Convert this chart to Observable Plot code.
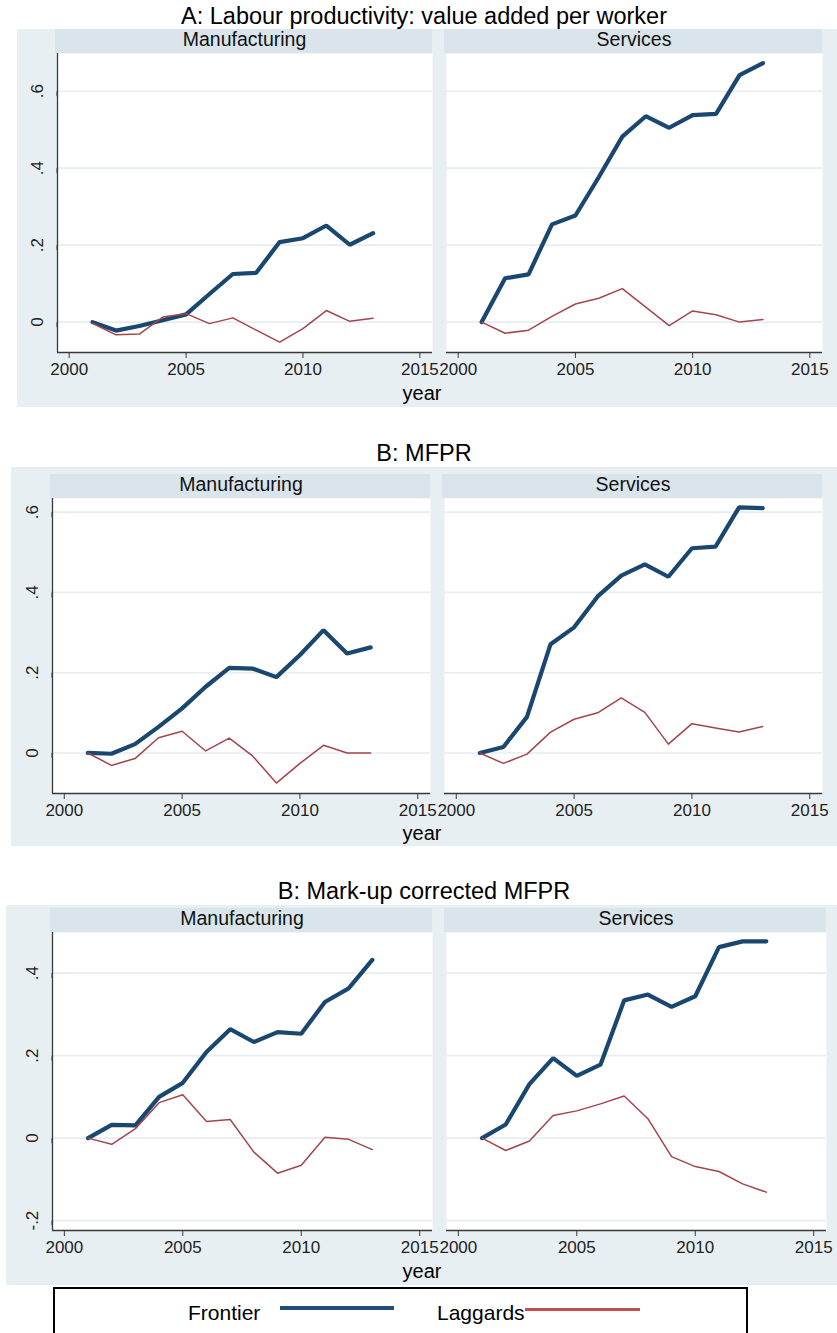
<!DOCTYPE html>
<html><head><meta charset="utf-8">
<script src="https://cdn.jsdelivr.net/npm/d3@7"></script>
<script src="https://cdn.jsdelivr.net/npm/@observablehq/plot@0.6"></script>
<style>
html,body{margin:0;padding:0;background:#fff;overflow:hidden;}
body{width:837px;height:1333px;position:relative;font-family:"Liberation Sans",Arial,sans-serif;color:#000;}
.bg{position:absolute;background:#e7eff2;}
.strip{position:absolute;background:#d9e5eb;height:24px;}
.lbl{position:absolute;white-space:nowrap;line-height:1;text-align:center;}
svg{overflow:visible;}
</style></head><body>
<script>
// ---- data ----
const years = [2001, 2002, 2003, 2004, 2005, 2006, 2007, 2008, 2009, 2010, 2011, 2012, 2013];
const sectors = ["Manufacturing", "Services"];
const seriesNames = ["Frontier", "Laggards"];
const panelTitles = ["A: Labour productivity: value added per worker", "B: MFPR", "B: Mark-up corrected MFPR"];
const xTicks = [2000, 2005, 2010, 2015];
const yTicksA = [0, 0.2, 0.4, 0.6];
const yTicksB = [0, 0.2, 0.4, 0.6];
const yTicksC = [-0.2, 0, 0.2, 0.4];

// A: Labour productivity
const aManFrontier = [0, -0.022, -0.010, 0.005, 0.020, 0.073, 0.125, 0.128, 0.208, 0.218, 0.251, 0.201, 0.231];
const aManLaggards = [-0.003, -0.033, -0.031, 0.013, 0.022, -0.004, 0.011, -0.021, -0.052, -0.017, 0.030, 0.002, 0.010];
const aSerFrontier = [0, 0.114, 0.124, 0.254, 0.277, 0.377, 0.482, 0.535, 0.505, 0.538, 0.541, 0.642, 0.673];
const aSerLaggards = [0, -0.029, -0.021, 0.015, 0.047, 0.062, 0.087, 0.039, -0.009, 0.029, 0.019, 0.000, 0.007];
// B: MFPR
const bManFrontier = [0, -0.002, 0.022, 0.065, 0.111, 0.165, 0.212, 0.210, 0.189, 0.244, 0.306, 0.248, 0.263];
const bManLaggards = [0, -0.031, -0.014, 0.038, 0.054, 0.005, 0.037, -0.008, -0.075, -0.026, 0.019, 0.000, 0.000];
const bSerFrontier = [0, 0.015, 0.090, 0.271, 0.313, 0.390, 0.442, 0.470, 0.439, 0.510, 0.514, 0.612, 0.610];
const bSerLaggards = [0, -0.026, -0.003, 0.052, 0.084, 0.100, 0.137, 0.101, 0.022, 0.073, 0.062, 0.052, 0.066];
// C: Mark-up corrected MFPR
const cManFrontier = [0, 0.032, 0.031, 0.100, 0.134, 0.209, 0.264, 0.233, 0.257, 0.253, 0.330, 0.363, 0.432];
const cManLaggards = [0, -0.015, 0.023, 0.086, 0.105, 0.040, 0.045, -0.034, -0.085, -0.066, 0.002, -0.003, -0.028];
const cSerFrontier = [0, 0.033, 0.131, 0.194, 0.151, 0.178, 0.334, 0.348, 0.318, 0.344, 0.463, 0.477, 0.477];
const cSerLaggards = [0, -0.030, -0.007, 0.055, 0.066, 0.083, 0.102, 0.047, -0.045, -0.069, -0.081, -0.111, -0.131];

// ---- styles / layout ----
const frontierColor = "#1a476f";
const laggardColor = "#a3454b";
const gridColor = "#e6eef1";
const axisColor = "#3a3a3a";
const xDomain = [1999.5, 2015.54];

const layout = [
  {titleTop: 5, bg: [17, 29, 407], stripTop: 29, plotTop: 53, plotBottom: 352,
   facets: [[57, 432], [446, 822]], yDomain: [-0.079, 0.698], yTicks: yTicksA, yearTop: 383,
   series: [[aManFrontier, aManLaggards], [aSerFrontier, aSerLaggards]]},
  {titleTop: 442, bg: [11, 467, 846], stripTop: 474, plotTop: 498, plotBottom: 793,
   facets: [[52, 430], [444, 822]], yDomain: [-0.101, 0.634], yTicks: yTicksB, yearTop: 823,
   series: [[bManFrontier, bManLaggards], [bSerFrontier, bSerLaggards]]},
  {titleTop: 880, bg: [6, 905, 1285], stripTop: 908, plotTop: 932, plotBottom: 1230,
   facets: [[52, 432], [446, 826]], yDomain: [-0.224, 0.4985], yTicks: yTicksC, yearTop: 1261,
   series: [[cManFrontier, cManLaggards], [cSerFrontier, cSerLaggards]]}
];

function fmtY(d) {
  if (d === 0) return "0";
  return (d < 0 ? "-" : "") + Math.abs(d).toFixed(1).replace(/^0/, "");
}

function addDiv(cls, css, text) {
  const el = document.createElement("div");
  el.className = cls;
  Object.assign(el.style, css);
  if (text != null) el.textContent = text;
  document.body.appendChild(el);
  return el;
}

layout.forEach((p, pi) => {
  addDiv("lbl", {left: "0px", width: "848px", top: p.titleTop + "px", fontSize: "23.5px"}, panelTitles[pi]);
  addDiv("bg", {left: p.bg[0] + "px", top: p.bg[1] + "px", width: (837 - p.bg[0]) + "px", height: (p.bg[2] - p.bg[1]) + "px"});
  p.facets.forEach(([x0, x1], fi) => {
    addDiv("strip", {left: (x0 - 2) + "px", width: (x1 - x0 + 2) + "px", top: p.stripTop + "px"});
    addDiv("lbl", {left: x0 + "px", width: (x1 - x0) + "px", top: (p.stripTop + 0.5) + "px", fontSize: "19.5px", color: "#111"}, sectors[fi]);
    const [fr, lg] = p.series[fi];
    const data = [
      ...years.map((year, i) => ({year, value: fr[i], series: seriesNames[0]})),
      ...years.map((year, i) => ({year, value: lg[i], series: seriesNames[1]}))
    ];
    const showY = fi === 0;
    const ml = showY ? x0 : 24;
    const mb = 40;
    const marks = [
      Plot.frame({fill: "white", stroke: "none"}),
      Plot.gridY(p.yTicks, {stroke: gridColor, strokeOpacity: 1, strokeWidth: 1.6}),
      Plot.ruleY([p.yDomain[0]], {stroke: axisColor, strokeWidth: 1.3}),
      Plot.axisX(xTicks, {tickFormat: d => String(d), tickSize: 6, tickPadding: 4, stroke: axisColor, fill: "#222", label: null, fontSize: 17}),
      Plot.line(data.filter(d => d.series === seriesNames[0]), {x: "year", y: "value", stroke: frontierColor, strokeWidth: 4.2, strokeLinejoin: "miter"}),
      Plot.line(data.filter(d => d.series === seriesNames[1]), {x: "year", y: "value", stroke: laggardColor, strokeWidth: 1.5})
    ];
    if (showY) {
      marks.push(Plot.ruleX([xDomain[0]], {stroke: axisColor, strokeWidth: 1.3}));
      marks.push(Plot.axisY(p.yTicks, {tickFormat: fmtY, tickSize: 5, tickPadding: 15, rotate: -90, textAnchor: "middle", stroke: axisColor, fill: "#222", label: null, fontSize: 17}));
    }
    const svg = Plot.plot({
      width: ml + (x1 - x0), height: (p.plotBottom - p.plotTop) + mb,
      marginLeft: ml, marginRight: 0, marginTop: 0, marginBottom: mb,
      x: {domain: xDomain, label: null},
      y: {domain: p.yDomain, label: null, axis: showY ? undefined : null},
      style: {background: "transparent", fontFamily: "'Liberation Sans', Arial, sans-serif", fontSize: "17px", overflow: "visible"},
      marks
    });
    svg.style.position = "absolute";
    svg.style.left = (x0 - ml) + "px";
    svg.style.top = p.plotTop + "px";
    document.body.appendChild(svg);
  });
  addDiv("lbl", {left: "372px", width: "100px", top: p.yearTop + "px", fontSize: "20px"}, "year");
});

// legend
addDiv("", {position: "absolute", left: "53px", top: "1287px", width: "691px", height: "60px", border: "2px solid #000", background: "#fff"});
addDiv("lbl", {left: "188px", top: "1302px", fontSize: "21px", textAlign: "left"}, seriesNames[0]);
addDiv("", {position: "absolute", left: "280px", top: "1306px", width: "114px", height: "4px", background: "#1f4e79"});
addDiv("lbl", {left: "437px", top: "1302px", fontSize: "21px", textAlign: "left"}, seriesNames[1]);
addDiv("", {position: "absolute", left: "525px", top: "1308px", width: "115px", height: "3px", background: "#c0504d"});
</script>
</body></html>
